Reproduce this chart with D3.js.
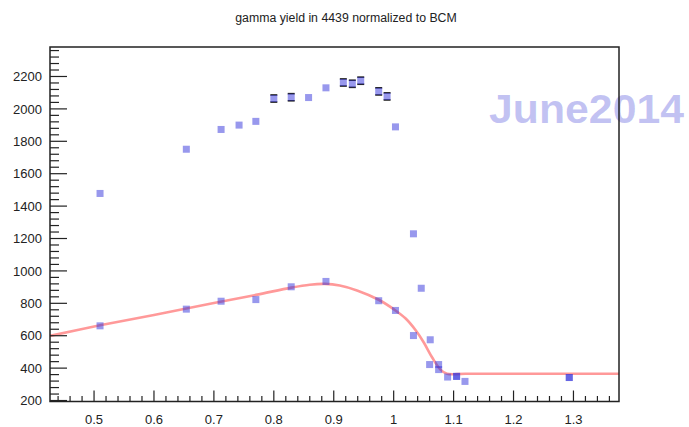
<!DOCTYPE html>
<meta charset="utf-8">
<style>
  body { margin: 0; background: #fff; }
  text { font-family: "Liberation Sans", Arial, sans-serif; }
  .tick-label { font-size: 13px; fill: #222; }
</style>
<svg width="689" height="427"></svg>
<script src="https://d3js.org/d3.v7.min.js"></script>
<script>

  // upper series (with some error bars)
  var upperX = [0.510, 0.654, 0.712, 0.742, 0.770, 0.800, 0.829, 0.858, 0.887, 0.916, 0.931, 0.945, 0.975, 0.989, 1.003, 1.033, 1.046, 1.105, 1.293];
  var upperY = [1478, 1751, 1873, 1900, 1923, 2064, 2072, 2070, 2130, 2163, 2155, 2174, 2108, 2077, 1889, 1229, 893, 349, 342];
  var upperErr = [0, 0, 0, 0, 0, 22, 22, 0, 0, 22, 22, 22, 22, 22, 0, 0, 0, 0, 0];

  // lower series
  var lowerX = [0.510, 0.654, 0.712, 0.770, 0.829, 0.887, 0.975, 1.003, 1.033, 1.061, 1.060, 1.075, 1.075, 1.090, 1.105, 1.119, 1.293];
  var lowerY = [661, 764, 813, 823, 902, 935, 816, 756, 601, 575, 422, 422, 391, 345, 349, 318, 342];

  // fitted curve
  var fitX = [0.4265, 0.510, 0.600, 0.700, 0.770, 0.829, 0.860, 0.885, 0.910, 0.940, 0.975, 1.003, 1.020, 1.037, 1.050, 1.064, 1.078, 1.089, 1.120, 1.376];
  var fitY = [599, 664, 728, 802, 852, 897, 915, 920, 910, 878, 822, 756, 706, 632, 560, 467, 391, 365, 365, 365];

  var yTicks = [200, 400, 600, 800, 1000, 1200, 1400, 1600, 1800, 2000, 2200];
  var xTicks = [0.5, 0.6, 0.7, 0.8, 0.9, 1.0, 1.1, 1.2, 1.3];

  var svg = d3.select("svg");
  var frameL = 50, frameR = 619, frameT = 47, frameB = 401.5;

  var x = d3.scaleLinear().domain([0.4265, 1.376]).range([frameL, frameR]);
  var y = d3.scaleLinear().domain([194, 2382]).range([frameB, frameT]);

  // title
  svg.append("text")
    .attr("x", 346).attr("y", 22)
    .attr("text-anchor", "middle")
    .style("font-size", "12.3px")
    .style("fill", "#222")
    .text("gamma yield in 4439 normalized to BCM");

  // watermark
  svg.append("text")
    .attr("x", 489).attr("y", 123)
    .attr("textLength", 195)
    .attr("lengthAdjust", "spacingAndGlyphs")
    .style("font-size", "40px")
    .style("font-weight", "bold")
    .style("fill", "rgb(80,80,220)")
    .style("fill-opacity", 0.35)
    .text("June2014");

  var plot = svg.append("g");

  // fit curve
  var fit = fitX.map(function (d, i) { return [d, fitY[i]]; });
  plot.append("path")
    .datum(fit)
    .attr("fill", "none")
    .attr("stroke", "rgb(255,0,0)")
    .attr("stroke-opacity", 0.4)
    .attr("stroke-width", 2.6)
    .attr("d", d3.line()
      .x(function (d) { return x(d[0]); })
      .y(function (d) { return y(d[1]); })
      .curve(d3.curveCatmullRom.alpha(0.5)));

  // error bar caps
  var upper = upperX.map(function (d, i) { return { x: d, y: upperY[i], e: upperErr[i] }; });
  var lower = lowerX.map(function (d, i) { return { x: d, y: lowerY[i], e: 0 }; });

  var withErr = upper.filter(function (d) { return d.e > 0; });
  var caps = plot.append("g").attr("stroke", "#222").attr("stroke-width", 1.6);
  withErr.forEach(function (d) {
    [d.y - d.e, d.y + d.e].forEach(function (v) {
      caps.append("line")
        .attr("x1", x(d.x) - 3.5).attr("x2", x(d.x) + 3.5)
        .attr("y1", y(v)).attr("y2", y(v));
    });
  });

  // markers
  plot.append("g")
    .selectAll("rect")
    .data(upper.concat(lower))
    .enter().append("rect")
    .attr("x", function (d) { return x(d.x) - 3.5; })
    .attr("y", function (d) { return y(d.y) - 3.5; })
    .attr("width", 7)
    .attr("height", 7)
    .attr("fill", "rgb(50,50,220)")
    .attr("fill-opacity", 0.5);

  // frame
  svg.append("rect")
    .attr("x", frameL).attr("y", frameT)
    .attr("width", frameR - frameL).attr("height", frameB - frameT)
    .attr("fill", "none")
    .attr("stroke", "#222")
    .attr("stroke-width", 1.5);

  // y axis ticks
  var yMinor = d3.range(200, 2381, 40);
  svg.append("g").selectAll("line")
    .data(yMinor)
    .enter().append("line")
    .attr("x1", frameL)
    .attr("x2", function (d) { return frameL + (d % 200 === 0 ? 17 : 9); })
    .attr("y1", function (d) { return y(d); })
    .attr("y2", function (d) { return y(d); })
    .attr("stroke", "#222")
    .attr("stroke-width", 1.2);

  svg.append("g").selectAll("text")
    .data(yTicks)
    .enter().append("text")
    .attr("class", "tick-label")
    .attr("x", frameL - 8)
    .attr("y", function (d) { return y(d); })
    .attr("dy", "0.36em")
    .attr("text-anchor", "end")
    .text(function (d) { return d; });

  // x axis ticks
  var xMinor = d3.range(22, 69).map(function (i) { return i * 0.02; });
  svg.append("g").selectAll("line")
    .data(xMinor)
    .enter().append("line")
    .attr("x1", function (d) { return x(d); })
    .attr("x2", function (d) { return x(d); })
    .attr("y1", frameB)
    .attr("y2", function (d, i) { return frameB - ((i + 22) % 5 === 0 ? 11 : 5.5); })
    .attr("stroke", "#222")
    .attr("stroke-width", 1.2);

  svg.append("g").selectAll("text")
    .data(xTicks)
    .enter().append("text")
    .attr("class", "tick-label")
    .attr("x", function (d) { return x(d); })
    .attr("y", 424)
    .attr("text-anchor", "middle")
    .text(function (d) { return d3.format("~g")(d); });

</script>
